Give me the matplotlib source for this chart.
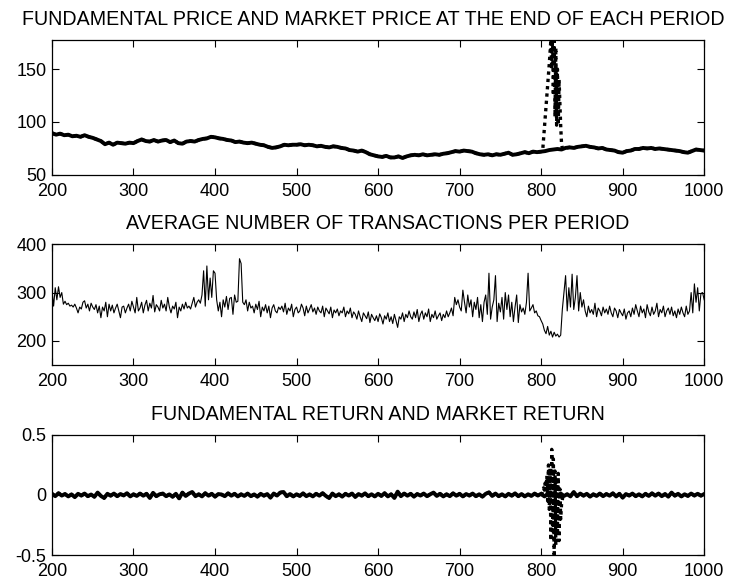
import numpy as np
import matplotlib
matplotlib.use("Agg")
from matplotlib import pyplot as plt

plt.rcParams['font.family'] = ['Liberation Sans', 'DejaVu Sans']

# fundamental price, read every 5 periods (200..1000)
price_fund = [
    89.5, 88.0, 89.0, 87.5, 88.0, 86.5, 87.0, 86.0, 87.5, 86.0,
    85.0, 83.5, 82.0, 79.0, 80.5, 78.5, 80.5, 80.0, 79.5, 80.5,
    80.0, 82.0, 83.5, 82.0, 81.5, 83.0, 81.5, 82.5, 83.0, 81.0,
    82.5, 80.0, 79.5, 81.5, 82.0, 81.5, 83.0, 84.0, 84.5, 86.0,
    85.5, 84.5, 84.0, 83.0, 82.5, 81.0, 81.5, 80.5, 80.0, 80.5,
    79.5, 78.5, 78.0, 76.5, 75.5, 76.0, 77.0, 78.5, 78.0, 78.5,
    78.5, 79.0, 78.0, 78.5, 78.0, 77.0, 77.5, 76.5, 76.0, 77.0,
    76.5, 75.5, 75.0, 73.5, 73.0, 72.0, 73.0, 71.5, 69.5, 68.5,
    67.5, 67.0, 68.0, 66.5, 66.5, 67.5, 66.0, 67.5, 68.5, 69.0,
    68.5, 69.5, 68.5, 69.0, 69.5, 69.0, 70.0, 70.5, 71.5, 72.5,
    72.0, 73.0, 72.5, 72.0, 70.5, 69.5, 69.0, 69.5, 68.5, 69.5,
    69.0, 70.0, 71.0, 69.0, 69.5, 70.5, 71.5, 70.5, 72.0, 71.5,
    72.0, 72.5, 73.5, 74.0, 74.5, 74.0, 75.5, 76.0, 75.5, 76.5,
    77.0, 77.5, 76.5, 76.0, 75.0, 75.5, 74.0, 73.5, 73.0, 71.5,
    71.0, 72.5, 73.0, 74.5, 74.5, 75.5, 75.0, 75.5, 74.5, 75.0,
    74.5, 74.0, 73.5, 73.0, 72.5, 71.5, 71.0, 72.5, 74.0, 73.5,
    73.0,
]

# market price during the bubble, periods 800..827
bubble_t = list(range(800, 828))
bubble_price = [
    72.0, 72.5, 74.0, 84.0, 94.0, 104.0, 114.0, 124.0, 134.0, 144.0,
    155.0, 166.0, 178.0, 150.0, 182.0, 125.0, 180.0, 105.0, 170.0, 97.0,
    150.0, 97.0, 140.0, 118.0, 96.0, 80.0, 75.0, 74.5,
]

# average number of transactions, every 2 periods (200..1000)
transactions = [
    305, 272, 310, 285, 312, 290, 300, 276, 282, 275, 278, 272, 274, 270, 276, 268, 258, 270, 266, 280,
    283, 268, 276, 262, 278, 270, 265, 275, 258, 272, 248, 270, 262, 280, 250, 276, 262, 274, 258, 268,
    276, 262, 248, 270, 272, 258, 268, 276, 262, 282, 270, 258, 290, 262, 268, 280, 258, 274, 284, 262,
    278, 268, 294, 260, 275, 270, 262, 284, 268, 276, 262, 290, 270, 258, 272, 266, 280, 248, 270, 262,
    276, 266, 280, 268, 272, 266, 278, 290, 270, 280, 285, 278, 295, 345, 272, 355, 285, 330, 290, 345,
    340, 285, 262, 280, 250, 285, 270, 292, 265, 288, 290, 255, 295, 280, 282, 370, 360, 280, 275, 285,
    262, 280, 268, 272, 258, 276, 265, 282, 250, 270, 262, 275, 258, 272, 248, 268, 275, 262, 258, 270,
    265, 272, 260, 278, 255, 268, 262, 276, 250, 265, 270, 258, 262, 276, 268, 252, 272, 258, 266, 275,
    260, 268, 255, 270, 262, 258, 272, 250, 268, 262, 256, 270, 248, 264, 258, 266, 252, 262, 258, 270,
    250, 262, 256, 268, 248, 260, 255, 245, 262, 250, 240, 258, 252, 246, 260, 238, 255, 248, 242, 252,
    240, 256, 248, 235, 252, 245, 258, 240, 250, 236, 255, 242, 228, 250, 245, 258, 240, 255, 248, 262,
    250, 245, 260, 248, 265, 240, 255, 262, 245, 258, 250, 266, 240, 255, 248, 262, 245, 252, 258, 242,
    255, 248, 262, 250, 258, 268, 252, 290, 275, 285, 270, 262, 305, 280, 258, 295, 270, 285, 250, 280,
    265, 290, 248, 275, 240, 280, 295, 255, 340, 245, 270, 285, 335, 240, 278, 260, 290, 245, 300, 265,
    295, 250, 280, 240, 270, 295, 238, 275, 260, 268, 255, 280, 340, 262, 268, 275, 258, 262, 252, 250,
    242, 235, 222, 215, 230, 212, 220, 208, 218, 210, 214, 208, 212, 265, 300, 335, 262, 310, 270, 338,
    265, 290, 335, 262, 300, 270, 285, 262, 250, 272, 258, 265, 255, 278, 250, 268, 262, 252, 270, 258,
    266, 255, 272, 258, 250, 268, 262, 248, 265, 258, 252, 266, 245, 258, 262, 250, 268, 255, 275, 262,
    250, 272, 258, 266, 248, 275, 260, 252, 270, 255, 262, 278, 250, 265, 258, 272, 250, 262, 268, 255,
    270, 252, 262, 248, 266, 255, 270, 258, 250, 272, 255, 262, 300, 258, 318, 280, 310, 262, 298, 300,
    285,
]

# fundamental return, every 4 periods (200..1000)
return_fund = [
    0.01, -0.01, 0.015, -0.005, 0.008, -0.012, 0.005, -0.018, 0.01, -0.005,
    0.012, -0.01, 0.004, -0.015, 0.02, -0.008, -0.025, 0.01, -0.006, 0.012,
    -0.01, 0.008, -0.004, 0.015, -0.012, 0.006, -0.008, 0.012, -0.006, 0.01,
    -0.025, 0.018, -0.01, 0.006, 0.012, -0.01, 0.005, -0.015, 0.01, -0.028,
    0.02, -0.008, 0.012, 0.025, -0.01, 0.006, -0.012, 0.015, -0.006, 0.01,
    -0.014, 0.008, 0.004, -0.01, 0.014, -0.006, 0.01, -0.012, 0.006, -0.008,
    0.012, -0.01, 0.005, -0.014, 0.01, -0.006, 0.008, -0.022, 0.012, -0.005,
    0.02, 0.025, -0.01, 0.008, -0.012, 0.006, -0.008, 0.014, -0.01, 0.005,
    -0.012, 0.01, -0.006, 0.015, -0.008, -0.025, 0.012, -0.01, 0.006, -0.014,
    0.01, -0.005, 0.012, -0.016, 0.008, -0.006, 0.014, -0.01, 0.006, -0.012,
    0.01, -0.008, 0.015, -0.012, 0.006, -0.025, 0.028, -0.01, 0.012, -0.006,
    0.01, -0.014, 0.008, -0.005, 0.012, -0.01, 0.006, 0.02, -0.008, 0.01,
    -0.012, 0.006, -0.01, 0.014, -0.006, 0.01, -0.012, 0.008, -0.005, 0.012,
    -0.01, 0.006, -0.014, 0.01, 0.022, -0.008, 0.012, -0.01, 0.006, -0.012,
    0.01, -0.006, 0.014, -0.01, 0.008, -0.012, 0.006, -0.008, 0.012, -0.005,
    0.01, -0.012, 0.008, -0.006, 0.014, -0.01, 0.012, -0.008, 0.006, -0.012,
    0.025, -0.01, 0.012, -0.006, 0.01, -0.014, 0.006, -0.008, 0.012, -0.01,
    0.008, -0.006, 0.014, -0.012, 0.01, -0.022, 0.008, -0.005, 0.012, -0.01,
    0.006, -0.012, 0.01, -0.008, 0.014, -0.006, 0.012, -0.01, 0.008, -0.014,
    0.02, -0.006, 0.01, -0.012, 0.006, -0.008, 0.012, -0.005, 0.01, -0.006,
    0.008,
]

# market return during the bubble, periods 800..828
bubble_rt = list(range(800, 829))
bubble_return = [
    0.0, 0.01, 0.03, 0.06, 0.04, 0.1, 0.02, 0.16, -0.05, 0.25,
    -0.12, 0.22, -0.38, 0.38, -0.3, 0.3, -0.55, 0.2, -0.42, 0.12,
    -0.3, 0.18, -0.38, 0.05, -0.2, -0.08, -0.04, 0.0, 0.0,
]

titles = [
    "FUNDAMENTAL PRICE AND MARKET PRICE AT THE END OF EACH PERIOD",
    "AVERAGE NUMBER OF TRANSACTIONS PER PERIOD",
    "FUNDAMENTAL RETURN AND MARKET RETURN",
]


def with_bubble(t, y, bt, by):
    """Market series: follows the fundamental outside the bubble window."""
    t = np.asarray(t)
    y = np.asarray(y)
    before = t < bt[0]
    after = t > bt[-1]
    mt = np.concatenate([t[before], bt, t[after]])
    my = np.concatenate([y[before], by, y[after]])
    return mt, my


t_price = np.linspace(200, 1000, len(price_fund))
t_trans = np.linspace(200, 1000, len(transactions))
t_ret = np.linspace(200, 1000, len(return_fund))

fig = plt.figure(figsize=(7.32, 5.87), dpi=100)
ax1 = fig.add_axes([0.071, 0.702, 0.891, 0.230])
ax2 = fig.add_axes([0.071, 0.378, 0.891, 0.206])
ax3 = fig.add_axes([0.071, 0.0545, 0.891, 0.2045])

# price panel
mt, mp = with_bubble(t_price, price_fund, bubble_t, bubble_price)
ax1.plot(t_price, price_fund, color='black', lw=2.8)
ax1.plot(mt, mp, color='black', lw=2.4, ls=(0, (1, 1.2)))
ax1.set_ylim(50, 177.5)
ax1.set_yticks([50, 100, 150])

# transactions panel
ax2.plot(t_trans, transactions, color='black', lw=0.8)
ax2.set_ylim(150, 400)
ax2.set_yticks([200, 300, 400])

# returns panel
rt, rr = with_bubble(t_ret, return_fund, bubble_rt, bubble_return)
ax3.plot(t_ret, return_fund, color='black', lw=2.8)
ax3.plot(rt, rr, color='black', lw=2.4, ls=(0, (1, 1.2)))
ax3.set_ylim(-0.5, 0.5)
ax3.set_yticks([-0.5, 0, 0.5])
ax3.set_yticklabels(['-0.5', '0', '0.5'])

for ax, title in zip([ax1, ax2, ax3], titles):
    ax.set_xlim(200, 1000)
    ax.set_xticks(range(200, 1001, 100))
    ax.tick_params(direction='in', top=True, right=True, length=5,
                   width=0.8, labelsize=13, pad=6)
    ax.tick_params(axis='y', pad=4)
    for s in ax.spines.values():
        s.set_linewidth(0.9)
    ax.set_title(title, fontsize=14.1, pad=11)

# the top title sits a little left of the axes centre in the original
ax1.title.set_x(0.492)

fig.savefig("out.png", dpi=100)
